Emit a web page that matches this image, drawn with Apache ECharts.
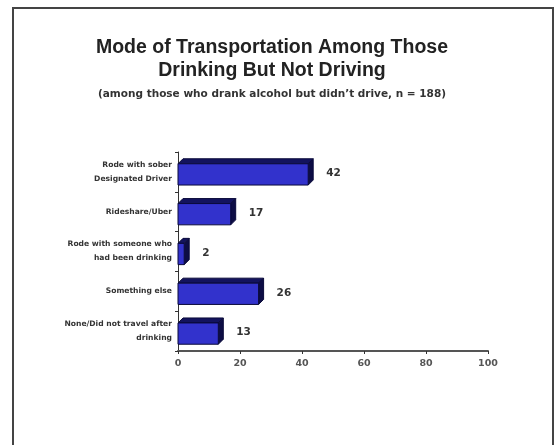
<!DOCTYPE html>
<html>
<head>
<meta charset="utf-8">
<script src="https://cdn.jsdelivr.net/npm/echarts@6/dist/echarts.min.js"></script>
<style>
html,body{margin:0;padding:0;background:#fff;}
#frame{position:absolute;left:12px;top:7px;width:542px;height:460px;border:2px solid #444;box-sizing:border-box;}
#chart{position:absolute;left:0;top:0;width:556px;height:445px;}
</style>
</head>
<body>
<div id="frame"></div>
<div id="chart"></div>
<script>
var categories = [
  'Rode with sober\nDesignated Driver',
  'Rideshare/Uber',
  'Rode with someone who\nhad been drinking',
  'Something else',
  'None/Did not travel after\ndrinking'
];
var values = [42, 17, 2, 26, 13];
var xTicks = [0, 20, 40, 60, 80, 100];

var chart = echarts.init(document.getElementById('chart'), null, {renderer: 'canvas'});
var D = 5;
chart.setOption({
  backgroundColor: 'transparent',
  animation: false,
  title: [
    {text: 'Mode of Transportation Among Those\nDrinking But Not Driving', left: 267, top: 31, textAlign: 'center',
     textStyle: {fontFamily: 'Liberation Sans', fontWeight: 'bold', fontSize: 19.5, lineHeight: 23, color: '#222'}},
    {text: '(among those who drank alcohol but didn\u2019t drive, n = 188)', left: 267, top: 84, textAlign: 'center',
     textStyle: {fontFamily: 'DejaVu Sans', fontWeight: 'bold', fontSize: 10.5, color: '#333'}}
  ],
  grid: {left: 178, right: 68, top: 152, bottom: 94},
  xAxis: {
    type: 'value', min: 0, max: 100, interval: 20,
    axisLine: {show: true, lineStyle: {color: '#555', width: 2}},
    axisTick: {show: true, length: 3, lineStyle: {color: '#333'}},
    splitLine: {show: false},
    axisLabel: {fontFamily: 'DejaVu Sans', fontWeight: 'bold', fontSize: 9.5, color: '#555', margin: 8,
      formatter: function (v) { return xTicks.indexOf(v) >= 0 ? String(v) : ''; }}
  },
  yAxis: {
    type: 'category', data: categories, inverse: true,
    axisLine: {show: true, lineStyle: {color: '#333', width: 1}},
    axisTick: {show: true, length: 3, lineStyle: {color: '#333'}},
    axisLabel: {fontFamily: 'DejaVu Sans', fontWeight: 'bold', fontSize: 7.6, color: '#333', lineHeight: 14, margin: 6, align: 'right'}
  },
  series: [{
    type: 'custom',
    data: values.map(function (v, i) { return [v, i]; }),
    encode: {x: 0, y: 1},
    renderItem: function (params, api) {
      var v = api.value(0), idx = api.value(1);
      var s = api.coord([0, idx]);
      var e = api.coord([v, idx]);
      var h = api.size([0, 1])[1] * 0.66;
      var top = s[1] - h / 2, bot = s[1] + h / 2;
      var x0 = s[0], x1 = e[0];
      var children = [
        {type: 'polygon', shape: {points: [[x0, top + D], [x0 + D, top], [x1 + D, top], [x1, top + D]]},
         style: {fill: '#13135e', stroke: '#0a0a3a', lineWidth: 1}},
        {type: 'polygon', shape: {points: [[x1, top + D], [x1 + D, top], [x1 + D, bot - D], [x1, bot]]},
         style: {fill: '#0d0d45', stroke: '#0a0a3a', lineWidth: 1}},
        {type: 'rect', shape: {x: x0, y: top + D, width: x1 - x0, height: bot - top - D},
         style: {fill: '#3232cc', stroke: '#0a0a3a', lineWidth: 1}},
        {type: 'text', style: {text: String(v), x: x1 + D + 13, y: s[1] + D / 2 - 1, textVerticalAlign: 'middle',
          fontFamily: 'DejaVu Sans', fontWeight: 'bold', fontSize: 10.5, fill: '#333'}}
      ];
      return {type: 'group', children: children};
    }
  }]
});
</script>
</body>
</html>
